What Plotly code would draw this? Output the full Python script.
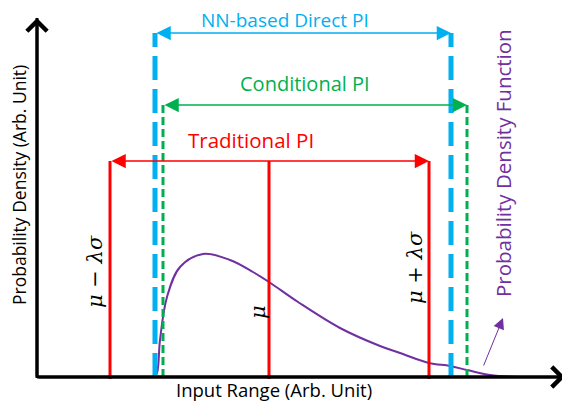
import plotly.graph_objects as go

# curva da densidade (unidades arbitrárias; origem no cruzamento dos eixos)
pdf_x = [117, 120, 123, 130, 143, 166, 193, 216, 232, 261, 303, 343, 363, 392, 413, 430, 453, 483]
pdf_y = [0, 4, 37, 80, 110, 123, 117, 105, 95, 75, 49, 31, 24, 14, 11, 7, 2, 0]

# limites de cada intervalo e altura da seta
trad_x = [73, 392]
trad_mu = 232
trad_top = 216
nn_x = [118, 414]
nn_top = 344
cond_x = [126, 430]
cond_top = 272

axis_end_x = 528
axis_end_y = 359

RED = "#FF0000"
BLUE = "#00B0F0"
GREEN = "#00B050"
PURPLE = "#7030A0"
FONT = "Open Sans"

fig = go.Figure()

fig.add_trace(go.Scatter(x=pdf_x, y=pdf_y, mode="lines", line=dict(color=PURPLE, width=2, shape="spline")))

# linhas verticais
for xv in trad_x + [trad_mu]:
    fig.add_trace(go.Scatter(x=[xv, xv], y=[-2, trad_top], mode="lines", line=dict(color=RED, width=3)))
for xv in nn_x:
    fig.add_trace(go.Scatter(x=[xv, xv], y=[0, nn_top], mode="lines",
                             line=dict(color=BLUE, width=5, dash="24px,9px")))
for xv in cond_x:
    fig.add_trace(go.Scatter(x=[xv, xv], y=[0, cond_top], mode="lines",
                             line=dict(color=GREEN, width=3, dash="8px,4px")))

# eixos com seta
fig.add_annotation(x=0, y=axis_end_y, ax=0, ay=-1, xref="x", yref="y", axref="x", ayref="y",
                   text="", showarrow=True, arrowhead=4, arrowwidth=3, arrowsize=1.3, arrowcolor="black")
fig.add_annotation(x=axis_end_x, y=0, ax=0, ay=0, xref="x", yref="y", axref="x", ayref="y",
                   text="", showarrow=True, arrowhead=4, arrowwidth=3, arrowsize=1.3, arrowcolor="black")

# setas duplas dos intervalos
for xs, yv, col in [(trad_x, trad_top, RED), (nn_x, nn_top, BLUE), (cond_x, cond_top, GREEN)]:
    fig.add_annotation(x=xs[1], y=yv, ax=xs[0], ay=yv, xref="x", yref="y", axref="x", ayref="y",
                       text="", showarrow=True, arrowhead=2, arrowside="end+start",
                       arrowwidth=1.5, arrowsize=1.9, arrowcolor=col)

# seta roxa apontando pro texto da PDF
fig.add_annotation(x=466, y=59, ax=446, ay=10, xref="x", yref="y", axref="x", ayref="y",
                   text="", showarrow=True, arrowhead=2, arrowwidth=1, arrowsize=2.2, arrowcolor=PURPLE)

# textos (texto, x, y, cor, ângulo, tamanho)
textos = [
    ("NN-based Direct PI", 248, 357, BLUE, 0, 19),
    ("Conditional PI", 268, 294, GREEN, 0, 20),
    ("Traditional PI", 214, 237, RED, 0, 20.5),
    ("Probability Density Function", 466, 214, PURPLE, -90, 20.5),
    ("Probability Density (Arb. Unit)", -18, 192, "black", -90, 17.5),
    ("Input Range (Arb. Unit)", 237, -12, "black", 0, 18.5),
]
for t, xx, yy, col, ang, sz in textos:
    fig.add_annotation(x=xx, y=yy, text=t, showarrow=False, textangle=ang,
                       font=dict(family=FONT, size=sz, color=col))

for t, xx, yy in [("μ − λσ", 58, 105), ("μ + λσ", 378, 109), ("μ", 221, 65)]:
    fig.add_annotation(x=xx, y=yy, text="<i>" + t + "</i>", showarrow=False, textangle=-90,
                       font=dict(family="DejaVu Serif", size=21, color="black"))

# a página tem margem de 8px, então a figura é um pouco menor
fig.update_xaxes(range=[-29, 533], visible=False)
fig.update_yaxes(range=[-27, 369], visible=False)
fig.update_layout(width=562, height=396, margin=dict(l=0, r=0, t=0, b=0),
                  showlegend=False, plot_bgcolor="white", paper_bgcolor="white")

# a linha do eixo (desenhada por cima)
fig.add_shape(type="line", x0=0, y0=-1, x1=0, y1=axis_end_y, line=dict(color="black", width=3))
fig.add_shape(type="line", x0=0, y0=0, x1=axis_end_x, y1=0, line=dict(color="black", width=3))

fig.write_html("out.html")
